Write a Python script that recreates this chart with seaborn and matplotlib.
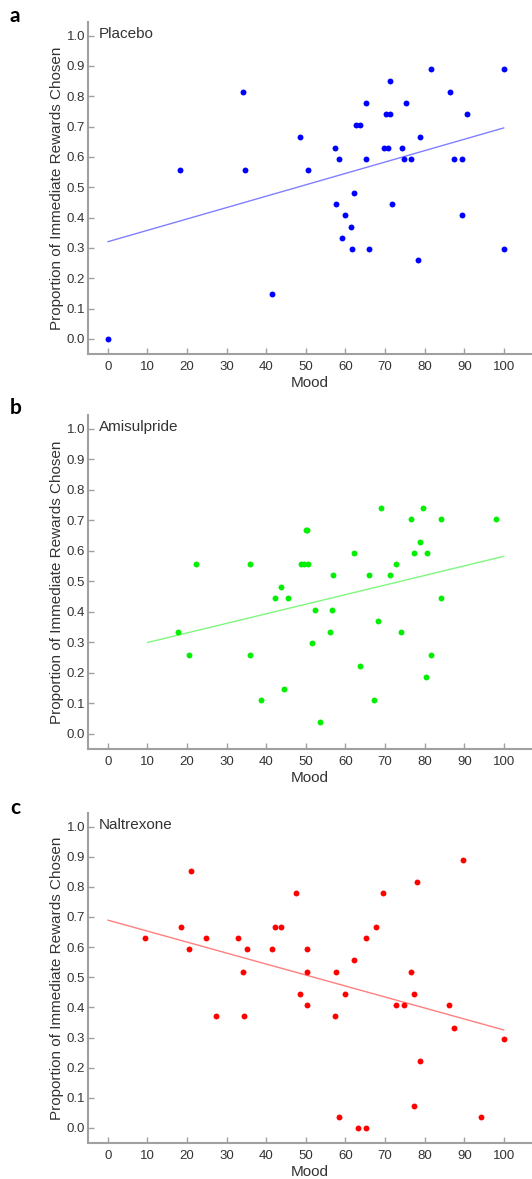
import matplotlib
matplotlib.use('Agg')
import matplotlib.pyplot as plt
import numpy as np
import pandas as pd
import seaborn as sns

# placebo
placebo_mood = [0, 18.2, 34.1, 34.7, 41.4, 48.4, 50.6, 57.4, 57.6, 58.3, 59.1, 59.8, 61.5, 61.7,
                62.2, 62.6, 63.7, 65.1, 65.3, 65.9, 69.7, 70.2, 70.8, 71.2, 71.3, 71.7, 74.3, 74.8,
                75.3, 76.5, 78.2, 78.7, 81.5, 86.4, 87.4, 89.5, 89.5, 90.8, 100, 100]
placebo_prop = [0.0, 0.556, 0.815, 0.556, 0.148, 0.667, 0.556, 0.630, 0.444, 0.593, 0.333, 0.407,
                0.370, 0.296, 0.481, 0.704, 0.704, 0.593, 0.778, 0.296, 0.630, 0.741, 0.630, 0.852,
                0.741, 0.444, 0.630, 0.593, 0.778, 0.593, 0.259, 0.667, 0.889, 0.815, 0.593, 0.593,
                0.407, 0.741, 0.889, 0.296]

# amisulpride
amis_mood = [17.7, 20.6, 22.3, 35.8, 35.8, 38.8, 42.3, 43.8, 44.4, 45.5, 48.9, 49.5, 50.0, 50.4,
             50.6, 51.6, 52.3, 53.5, 56.2, 56.6, 56.9, 62.1, 63.7, 65.9, 67.1, 68.1, 69.0, 71.2,
             72.7, 74.1, 76.5, 77.2, 78.7, 79.7, 80.4, 80.6, 81.5, 84.0, 84.0, 98.1]
amis_prop = [0.333, 0.259, 0.556, 0.556, 0.259, 0.111, 0.444, 0.481, 0.148, 0.444, 0.556, 0.556,
             0.667, 0.667, 0.556, 0.296, 0.407, 0.037, 0.333, 0.407, 0.519, 0.593, 0.222, 0.519,
             0.111, 0.370, 0.741, 0.519, 0.556, 0.333, 0.704, 0.593, 0.630, 0.741, 0.185, 0.593,
             0.259, 0.704, 0.444, 0.704]

# naltrexone
nalt_mood = [9.4, 18.6, 20.4, 21.1, 24.7, 27.3, 32.9, 34.1, 34.4, 35.2, 41.4, 42.3, 43.7, 47.4,
             48.4, 50.4, 50.4, 50.4, 57.4, 57.7, 58.3, 60.0, 62.1, 63.2, 65.2, 65.2, 67.8, 69.5,
             72.8, 74.9, 76.5, 77.3, 77.3, 78.0, 78.7, 86.2, 87.5, 89.7, 94.1, 100]
nalt_prop = [0.630, 0.667, 0.593, 0.852, 0.630, 0.370, 0.630, 0.519, 0.370, 0.593, 0.593, 0.667,
             0.667, 0.778, 0.444, 0.593, 0.519, 0.407, 0.370, 0.519, 0.037, 0.444, 0.556, 0.0,
             0.0, 0.630, 0.667, 0.778, 0.407, 0.407, 0.519, 0.444, 0.074, 0.815, 0.222, 0.407,
             0.333, 0.889, 0.037, 0.296]

panels = [
    ('a', 'Placebo', placebo_mood, placebo_prop, '#0000ff', [0, 100]),
    ('b', 'Amisulpride', amis_mood, amis_prop, '#00f000', [10, 100]),
    ('c', 'Naltrexone', nalt_mood, nalt_prop, '#ff0000', [0, 100]),
]

sns.set_style('ticks')
plt.rcParams['font.family'] = ['Liberation Sans', 'DejaVu Sans']

W, H = 532, 1179
fig = plt.figure(figsize=(W / 100, H / 100), dpi=100)

# axes boxes in pixels (left, top, right, bottom)
boxes = [(88, 22, 532, 354), (88, 415, 532, 749), (88, 813, 532, 1143)]
label_y = [16, 408, 808]
spine_col = '#a0a0a0'
text_col = '#333333'

for (letter, name, mood, prop, col, xr), (l, t, r, b), ly in zip(panels, boxes, label_y):
    ax = fig.add_axes([l / W, 1 - b / H, (r - l) / W, (b - t) / H])
    df = pd.DataFrame({'Mood': mood, 'Prop': prop})
    sns.scatterplot(data=df, x='Mood', y='Prop', ax=ax, color=col, s=18,
                    edgecolor=col, linewidth=0, zorder=3)
    # least squares fit
    k, c0 = np.polyfit(df['Mood'], df['Prop'], 1)
    fx = np.array(xr, dtype=float)
    sns.lineplot(x=fx, y=k * fx + c0, ax=ax, color=col, alpha=0.5, linewidth=1)

    ax.set_xlim(-5, 107.1)
    ax.set_ylim(-0.05, 1.045)
    ax.set_xticks(np.arange(0, 101, 10))
    ax.set_yticks(np.arange(0, 1.01, 0.1))
    ax.set_yticklabels([f'{v:.1f}' for v in np.arange(0, 1.01, 0.1)])
    ax.tick_params(direction='in', length=4, width=1, color=spine_col,
                   labelsize=9.5, labelcolor=text_col, pad=2)
    ax.tick_params(axis='x', pad=5)
    for s in ['top', 'right']:
        ax.spines[s].set_visible(False)
    for s in ['left', 'bottom']:
        ax.spines[s].set_color(spine_col)
        ax.spines[s].set_linewidth(1.5)
    ax.set_xlabel('Mood', fontsize=11, color=text_col, labelpad=2)
    ax.set_ylabel('Proportion of Immediate Rewards Chosen', fontsize=11, color=text_col,
                  labelpad=2)
    ax.text(0.025, 0.985, name, transform=ax.transAxes, ha='left', va='top',
            fontsize=11, color=text_col)
    fig.text(10 / W, 1 - ly / H, letter, ha='left', va='center', fontsize=15,
             fontweight='bold', family=['Lato', 'DejaVu Sans'], color='black')

fig.savefig('out.png', dpi=100)
